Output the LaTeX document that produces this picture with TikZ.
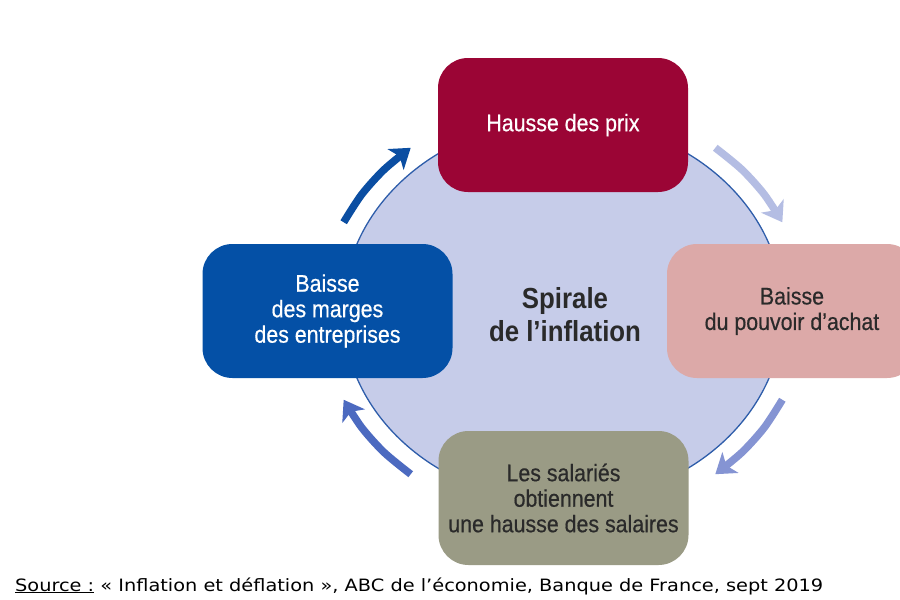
\documentclass[tikz,border=0pt]{standalone}
\usepackage{fontspec}
\usepackage{graphicx}
\usetikzlibrary{shapes.geometric,arrows.meta}
\newfontfamily\cond{Liberation Sans}[FakeStretch=0.89,FakeBold=0.5]
\newfontfamily\condb{Liberation Sans Bold}[FakeStretch=0.89]
\newfontfamily\verd{DejaVu Sans}
\definecolor{cprix}{HTML}{9B0535}
\definecolor{cpouv}{HTML}{DCA9A8}
\definecolor{csal}{HTML}{9A9B85}
\definecolor{cmarg}{HTML}{0450A6}
\definecolor{circf}{HTML}{C6CCE9}
\definecolor{circb}{HTML}{2E5DAA}
\definecolor{txt}{HTML}{2A2A2A}
\definecolor{aul}{HTML}{0B4EA2}
\definecolor{aur}{HTML}{B4BDE3}
\definecolor{alr}{HTML}{8594D3}
\definecolor{all}{HTML}{4C6AC0}
\begin{document}
\begin{tikzpicture}[x=1pt,y=-1pt,
  box/.style={rectangle, rounded corners=30pt, minimum width=250pt, minimum height=134pt,
    inner sep=0pt, align=center, font=\cond\fontsize{24}{25.5}\selectfont},
  arr/.style={line width=7.5pt, -{Stealth[length=19pt,width=26pt,inset=5pt]}}]
\useasboundingbox (0,0) rectangle (900,600);
\clip (0,0) rectangle (900,600);
\fill[white] (0,0) rectangle (900,600);
\node[ellipse, draw=circb, line width=1.3pt, fill=circf, minimum width=440pt,
  minimum height=382pt, inner sep=0pt] (cercle) at (563,311) {};
\node[font=\condb\fontsize{29}{33}\selectfont, text=txt, align=center]
  (spirale) at (565,315) {Spirale\\de l’inflation};
\node[box, fill=cprix, text=white] (prix) at (563,125) {Hausse des prix};
\node[box, fill=cpouv, text=txt] (pouvoir) at (792,311) {Baisse\\du pouvoir d’achat};
\node[box, fill=csal, text=txt] (salaires) at (563.5,498) {Les salariés\\obtiennent\\une hausse des salaires};
\node[box, fill=cmarg, text=white] (marges) at (327.5,311) {Baisse\\des marges\\des entreprises};
\draw[arr, aul] plot[domain=205:231, samples=4, smooth] ({563+242*cos(\x)},{311+210*sin(\x)});
\draw[arr, aur] plot[domain=309:335, samples=4, smooth] ({563+242*cos(\x)},{311+210*sin(\x)});
\draw[arr, alr] plot[domain=25:51, samples=4, smooth] ({563+242*cos(\x)},{311+210*sin(\x)});
\draw[arr, all] plot[domain=129:155, samples=4, smooth] ({563+242*cos(\x)},{311+210*sin(\x)});
\node[anchor=base west, inner sep=0pt] (source) at (15,591)
  {\resizebox{808pt}{\height}{\verd\fontsize{17}{20}\selectfont \underline{Source :} « Inflation et déflation », ABC de l’économie, Banque de France, sept 2019}};
\end{tikzpicture}
\end{document}
